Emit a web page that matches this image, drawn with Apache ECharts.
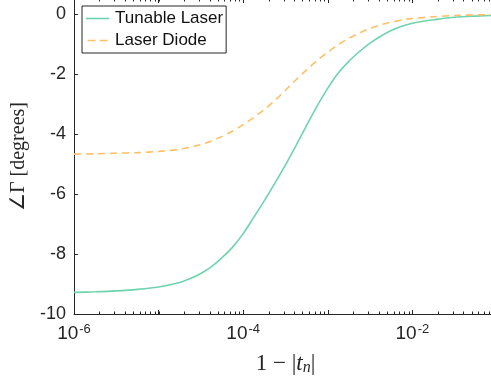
<!DOCTYPE html>
<html>
<head>
<meta charset="utf-8">
<script src="https://cdn.jsdelivr.net/npm/echarts@6/dist/echarts.min.js"></script>
<style>html,body{margin:0;padding:0;background:#fff}#c{width:491px;height:383px}</style>
</head>
<body>
<div id="c"></div>
<script>
const xValues = [1e-6, 1.78e-6, 3.16e-6, 5.62e-6, 1e-5, 1.78e-5, 2.37e-5, 3.16e-5,
  4.22e-5, 5.62e-5, 7.5e-5, 1e-4, 1.33e-4, 1.78e-4, 2.37e-4, 3.16e-4, 4.22e-4, 5.62e-4, 7.5e-4,
  1e-3, 1.33e-3, 1.78e-3, 2.37e-3, 3.16e-3, 4.22e-3, 5.62e-3, 7.5e-3, 1e-2,
  1.33e-2, 1.78e-2, 3.16e-2, 5.62e-2, 1e-1];
const tunableLaser = [-9.28, -9.26, -9.23, -9.18, -9.1, -8.95, -8.82, -8.65,
  -8.42, -8.12, -7.77, -7.32, -6.78, -6.22, -5.64, -5.03, -4.38, -3.71, -3.06,
  -2.47, -1.97, -1.57, -1.25, -0.97, -0.74, -0.55, -0.41, -0.31,
  -0.24, -0.19, -0.11, -0.07, -0.04];
const laserDiode = [-4.67, -4.66, -4.64, -4.62, -4.58, -4.51, -4.44, -4.35,
  -4.23, -4.08, -3.9, -3.69, -3.45, -3.18, -2.88, -2.54, -2.19, -1.86, -1.55,
  -1.27, -1.02, -0.81, -0.63, -0.48, -0.36, -0.27, -0.2, -0.15,
  -0.12, -0.09, -0.05, -0.03, -0.02];
const seriesNames = ['Tunable Laser', 'Laser Diode'];
const yTicks = [-10, -8, -6, -4, -2, 0];
const xLabelExponents = [-6, -4, -2];
const xMin = 1e-6, xMax = 1e-1, yMin = -10, yMax = 0.5;
const minorMultipliers = [2, 3, 4, 5, 6, 7, 8, 9];
const decades = [1e-6, 1e-5, 1e-4, 1e-3, 1e-2];
const oddDecades = [1e-5, 1e-3, 1e-1];

const minorTicks = [];
decades.forEach(d => minorMultipliers.forEach(m => minorTicks.push([m * d])));
oddDecades.forEach(d => minorTicks.push([d]));

const axisColor = '#262626';
const sans = '"Liberation Sans", Arial, Helvetica, sans-serif';
const serif = '"Liberation Serif", "Times New Roman", serif';

const chart = echarts.init(document.getElementById('c'), null, {renderer: 'canvas'});
const expLabel = v => {
  const e = Math.round(Math.log10(v));
  return xLabelExponents.indexOf(e) >= 0 ? '{b|10}{s|' + e + '}' : '';
};
const tickAxis = (extra) => Object.assign({
  axisLine: {show: true, onZero: false, lineStyle: {color: axisColor, width: 1}},
  axisTick: {show: true, inside: true, length: 4, interval: 1, lineStyle: {color: axisColor}},
  splitLine: {show: false}
}, extra);
const option = {
  animation: false,
  backgroundColor: '#fff',
  grid: {left: 74, top: -1, width: 423, height: 315, containLabel: false, outerBoundsMode: 'none'},
  legend: {
    data: [
      {name: seriesNames[0], icon: 'path://M0,0H29V2H0Z'},
      {name: seriesNames[1], icon: 'path://M0,0H10V2H0Z M15,0H25V2H15Z'}
    ],
    orient: 'vertical',
    left: 82, top: 6,
    padding: [4, 3, 4, 4],
    itemGap: 5,
    itemWidth: 29,
    itemHeight: 1.6,
    borderColor: '#262626',
    borderWidth: 1,
    backgroundColor: '#fff',
    textStyle: {fontFamily: sans, fontSize: 17, color: '#111', lineHeight: 17, padding: [0, 0, 0, -2]}
  },
  xAxis: [tickAxis({
    type: 'log', min: xMin, max: xMax, logBase: 10,
    axisLabel: {
      showMaxLabel: false, margin: 9, formatter: expLabel,
      rich: {
        b: {fontFamily: sans, fontSize: 19, color: axisColor, lineHeight: 22},
        s: {fontFamily: sans, fontSize: 13, color: axisColor, verticalAlign: 'top', lineHeight: 12, padding: [0, 0, 10, 1]}
      }
    },
    name: '{a|1 − |}{i|t}{n|n}{a||}',
    nameLocation: 'middle', nameGap: 37,
    nameTextStyle: {
      rich: {
        a: {fontFamily: serif, fontSize: 23, color: axisColor},
        i: {fontFamily: serif, fontStyle: 'italic', fontSize: 23, color: axisColor},
        n: {fontFamily: serif, fontStyle: 'italic', fontSize: 16, color: axisColor, padding: [9, 0, 0, 0]}
      }
    }
  }), tickAxis({
    type: 'log', min: xMin, max: xMax, logBase: 10, position: 'top',
    axisLabel: {show: false}
  })],
  yAxis: [tickAxis({
    type: 'value', min: yMin, max: yMax, interval: 2,
    axisTick: {show: true, inside: true, length: 4, lineStyle: {color: axisColor}},
    axisLabel: {
      margin: 8, fontFamily: sans, fontSize: 18, color: axisColor,
      showMaxLabel: false,
      formatter: v => (yTicks.indexOf(v) >= 0 ? String(v) : '')
    },
    name: '∠Γ [degrees]', nameLocation: 'middle', nameGap: 41,
    nameTextStyle: {fontFamily: serif, fontSize: 20, color: axisColor}
  }), tickAxis({
    type: 'value', min: yMin, max: yMax, interval: 2, position: 'right',
    axisTick: {show: true, inside: true, length: 4, lineStyle: {color: axisColor}},
    axisLabel: {show: false}
  })],
  series: [{
    name: seriesNames[0], type: 'line', symbol: 'none', smooth: 0.3,
    data: xValues.map((x, i) => [x, tunableLaser[i]]),
    lineStyle: {color: '#6dd4ad', width: 1.6},
    itemStyle: {color: '#6dd4ad'}
  }, {
    name: seriesNames[1], type: 'line', symbol: 'none', smooth: 0.3,
    data: xValues.map((x, i) => [x, laserDiode[i]]),
    lineStyle: {color: '#fdbf68', width: 1.6, type: [7, 5]},
    itemStyle: {color: '#fdbf68'}
  }, {
    type: 'custom', silent: true, clip: false,
    data: minorTicks,
    encode: {x: 0},
    renderItem: (params, api) => {
      const b = api.coord([api.value(0), yMin]);
      const t = api.coord([api.value(0), yMax]);
      const x = Math.round(b[0]) + 0.5;
      return {type: 'group', children: [
        {type: 'line', shape: {x1: x, y1: b[1], x2: x, y2: b[1] - 2.5}, style: {stroke: axisColor, lineWidth: 1}},
        {type: 'line', shape: {x1: x, y1: t[1], x2: x, y2: t[1] + 2.5}, style: {stroke: axisColor, lineWidth: 1}}
      ]};
    }
  }]
};
chart.setOption(option);
</script>
</body>
</html>
